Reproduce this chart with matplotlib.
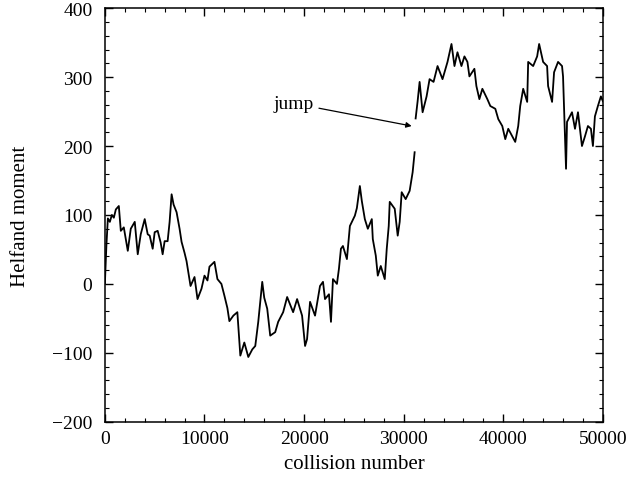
import numpy as np
import matplotlib
matplotlib.use('Agg')
import matplotlib.pyplot as plt
from matplotlib.ticker import MultipleLocator

plt.rcParams['font.family'] = ['Liberation Serif', 'DejaVu Serif']

# Helfand moment along the trajectory (NaN marks the break at the jump)
collisions = [
    0, 150, 300, 500, 700, 900, 1100, 1400, 1600, 1900, 2300, 2600, 3000, 3300,
    3600, 4000, 4300, 4500, 4800, 5000, 5300, 5600, 5800, 6000, 6300, 6500, 6700,
    6900, 7200, 7500, 7700, 8000, 8200, 8400, 8600, 9000, 9300, 9700, 10000,
    10300, 10500, 11000, 11300, 11700, 12000, 12300, 12500, 12900, 13300, 13600,
    14000, 14400, 14800, 15100, 15400, 15800, 16000, 16300, 16600, 17100, 17400,
    17900, 18300, 18600, 18900, 19300, 19800, 20100, 20300, 20600, 21100, 21600,
    21900, 22100, 22500, 22700, 22900, 23300, 23500, 23700, 23900, 24300, 24600,
    25100, 25300, 25600, 25800, 26100, 26400, 26800, 26900, 27200, 27400, 27700,
    28100, 28300, 28500, 28600, 29100, 29400, 29600, 29800, 30200, 30600, 30900,
    31100, 31150, 31200, 31400, 31600, 31900, 32300, 32600, 33000, 33400, 33900,
    34400, 34800, 35100, 35400, 35800, 36100, 36400, 36600, 37100, 37300, 37600,
    37900, 38400, 38700, 39200, 39500, 39900, 40200, 40500, 40900, 41200, 41500,
    41700, 42000, 42400, 42500, 43000, 43400, 43600, 44000, 44400, 44500, 44900,
    45100, 45500, 45900, 46000, 46300, 46400, 46900, 47200, 47500, 47900, 48200,
    48500, 48800, 49000, 49200, 49500, 49800, 50000,
]
helfand = [
    0, 55, 95, 90, 100, 96, 108, 113, 77, 82, 48, 80, 90, 43,
    72, 94, 72, 70, 51, 75, 77, 60, 43, 62, 62, 90, 130,
    115, 104, 80, 61, 45, 33, 15, -3, 10, -22, -7, 12,
    5, 25, 32, 7, 0, -17, -35, -54, -46, -41, -104,
    -85, -106, -95, -90, -55, 3, -20, -36, -75, -70, -55,
    -41, -19, -30, -41, -22, -46, -90, -80, -26, -46, -3,
    3, -22, -15, -55, 7, 0, 22, 51, 55, 36, 84,
    99, 110, 142, 120, 94, 80, 94, 65, 41, 12, 26,
    7, 51, 84, 119, 109, 70, 90, 133, 123, 135, 162,
    191, np.nan, 240, 265, 293, 249, 272, 297, 293, 316, 297,
    322, 348, 316, 336, 316, 330, 322, 301, 312, 287, 268,
    283, 268, 258, 254, 239, 229, 210, 225, 214, 206, 229,
    258, 283, 264, 322, 316, 330, 348, 322, 316, 287, 264,
    307, 322, 316, 301, 167, 235, 249, 225, 249, 200, 214,
    229, 225, 200, 243, 258, 272, 265,
]

fig = plt.figure(figsize=(6.28, 4.81), dpi=100)
ax = fig.add_axes([0.167, 0.121, 0.793, 0.860])

ax.plot(collisions, helfand, color='black', lw=1.3)

ax.annotate('jump', xy=(30800, 229), xytext=(16900, 262),
            fontsize=14, ha='left', va='center',
            arrowprops=dict(arrowstyle='-|>', color='black', lw=0.9,
                            mutation_scale=8, shrinkA=2, shrinkB=0))

ax.set_xlim(0, 50000)
ax.set_ylim(-200, 400)
ax.xaxis.set_major_locator(MultipleLocator(10000))
ax.xaxis.set_minor_locator(MultipleLocator(2000))
ax.yaxis.set_major_locator(MultipleLocator(100))
ax.yaxis.set_minor_locator(MultipleLocator(20))
ax.tick_params(which='both', direction='in', top=True, right=True,
               labelsize=14, color='black')
ax.tick_params(which='major', length=6, width=1)
ax.tick_params(axis='y', which='major', pad=9)
ax.tick_params(axis='x', which='major', pad=6)
ax.tick_params(which='minor', length=3, width=0.8)
for s in ax.spines.values():
    s.set_linewidth(1.1)

ax.set_xlabel('collision number', fontsize=15, labelpad=5)
ax.set_ylabel('Helfand moment', fontsize=15, labelpad=16)

fig.savefig('out.png', dpi=100)
